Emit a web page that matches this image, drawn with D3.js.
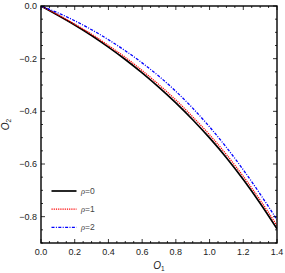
<!DOCTYPE html>
<html>
<head>
  <meta charset="utf-8">
  <title>O1 vs O2</title>
  <style>
    body { margin: 0; background: #fff; overflow: hidden; }
    text { font-family: "Liberation Sans", Arial, sans-serif; fill: #222; }
    .frame { fill: none; stroke: #000; stroke-width: 1.4; }
    .tick { stroke: #000; stroke-width: 0.8; }
  </style>
</head>
<body>
<svg id="chart" width="285" height="273"></svg>
<script src="https://cdn.jsdelivr.net/npm/d3@7/dist/d3.min.js"></script>
<script>
(function() {
  // values
  var o1 = [0, 0.1, 0.2, 0.3, 0.4, 0.5, 0.6, 0.7, 0.8, 0.9, 1.0, 1.1, 1.2, 1.3, 1.4];
  var rho0 = [0, -0.035, -0.072, -0.112, -0.156, -0.203, -0.254, -0.309, -0.368, -0.432, -0.501, -0.576, -0.659, -0.749, -0.846];
  var rho1 = [0, -0.033, -0.069, -0.107, -0.150, -0.195, -0.245, -0.299, -0.357, -0.421, -0.489, -0.564, -0.647, -0.737, -0.834];
  var rho2 = [0, -0.026, -0.056, -0.090, -0.128, -0.170, -0.216, -0.267, -0.324, -0.388, -0.459, -0.537, -0.622, -0.714, -0.812];
  var seriesNames = ["\u03C1=0", "\u03C1=1", "\u03C1=2"];
  var xTicks = [0, 0.2, 0.4, 0.6, 0.8, 1.0, 1.2, 1.4];
  var yTicks = [0, -0.2, -0.4, -0.6, -0.8];

  var L = 41, R = 277, T = 6, B = 243;
  var svg = d3.select("#chart");
  var x = d3.scaleLinear().domain([0, 1.4]).range([L, R]);
  var y = d3.scaleLinear().domain([-0.9, 0]).range([B, T]);

  var styles = [
    { color: "#000", width: 1.7, dash: null },
    { color: "#f00", width: 1.3, dash: "1.2,1" },
    { color: "#00f", width: 1.3, dash: "3,1.4,1,1.4" }
  ];
  var allSeries = [rho0, rho1, rho2];

  svg.append("clipPath").attr("id", "clip")
    .append("rect").attr("x", L).attr("y", T).attr("width", R - L).attr("height", B - T);

  var line = d3.line()
    .x(function(d, i) { return x(o1[i]); })
    .y(function(d) { return y(d); })
    .curve(d3.curveMonotoneX);

  allSeries.forEach(function(s, k) {
    svg.append("path")
      .attr("d", line(s))
      .attr("clip-path", "url(#clip)")
      .attr("fill", "none")
      .attr("stroke", styles[k].color)
      .attr("stroke-width", styles[k].width)
      .attr("stroke-dasharray", styles[k].dash);
  });

  // minor ticks every 0.05, major every 0.2, on all four sides, inward
  var minorX = d3.range(0, 1.4001, 0.05);
  var minorY = d3.range(-0.9, 0.0001, 0.05);
  var tg = svg.append("g");
  minorX.forEach(function(v) {
    var major = xTicks.some(function(t) { return Math.abs(t - v) < 1e-6; });
    var len = major ? 4 : 2;
    tg.append("line").attr("class", "tick").attr("x1", x(v)).attr("x2", x(v)).attr("y1", B).attr("y2", B - len);
    tg.append("line").attr("class", "tick").attr("x1", x(v)).attr("x2", x(v)).attr("y1", T).attr("y2", T + len);
  });
  minorY.forEach(function(v) {
    var major = yTicks.some(function(t) { return Math.abs(t - v) < 1e-6; });
    var len = major ? 4 : 2;
    tg.append("line").attr("class", "tick").attr("y1", y(v)).attr("y2", y(v)).attr("x1", L).attr("x2", L + len);
    tg.append("line").attr("class", "tick").attr("y1", y(v)).attr("y2", y(v)).attr("x1", R).attr("x2", R - len);
  });

  svg.append("rect").attr("class", "frame")
    .attr("x", L).attr("y", T).attr("width", R - L).attr("height", B - T);

  // tick labels
  svg.selectAll(".xl").data(xTicks).enter().append("text")
    .attr("x", function(d) { return x(d); })
    .attr("y", B + 12)
    .attr("text-anchor", "middle")
    .attr("font-size", 9)
    .text(function(d) { return d.toFixed(1); });
  svg.selectAll(".yl").data(yTicks).enter().append("text")
    .attr("x", L - 4)
    .attr("y", function(d) { return y(d) + 3; })
    .attr("text-anchor", "end")
    .attr("font-size", 9)
    .text(function(d) { return d === 0 ? "0.0" : "\u2212" + Math.abs(d).toFixed(1); });

  // axis labels
  var xl = svg.append("text").attr("x", (L + R) / 2).attr("y", 269)
    .attr("text-anchor", "middle").attr("font-size", 10);
  xl.append("tspan").attr("font-style", "italic").text("O");
  xl.append("tspan").attr("font-size", 6.5).attr("dy", 2).text("1");

  var yl = svg.append("text")
    .attr("transform", "translate(9," + ((T + B) / 2) + ") rotate(-90)")
    .attr("text-anchor", "middle").attr("font-size", 10);
  yl.append("tspan").attr("font-style", "italic").text("O");
  yl.append("tspan").attr("font-size", 6.5).attr("dy", 2).text("2");

  // legend
  var lg = svg.append("g");
  seriesNames.forEach(function(name, k) {
    var ly = 191 + k * 18.2;
    lg.append("line")
      .attr("x1", 51.5).attr("x2", 76.5).attr("y1", ly).attr("y2", ly)
      .attr("stroke", styles[k].color)
      .attr("stroke-width", styles[k].width)
      .attr("stroke-dasharray", styles[k].dash);
    var t = lg.append("text").attr("x", 81).attr("y", ly + 3)
      .attr("font-size", 8.5).style("fill", "#444");
    t.append("tspan").attr("font-style", "italic").attr("font-family", "Liberation Serif, serif").text("\u03C1");
    t.append("tspan").text(name.slice(1));
  });
})();
</script>
</body>
</html>
